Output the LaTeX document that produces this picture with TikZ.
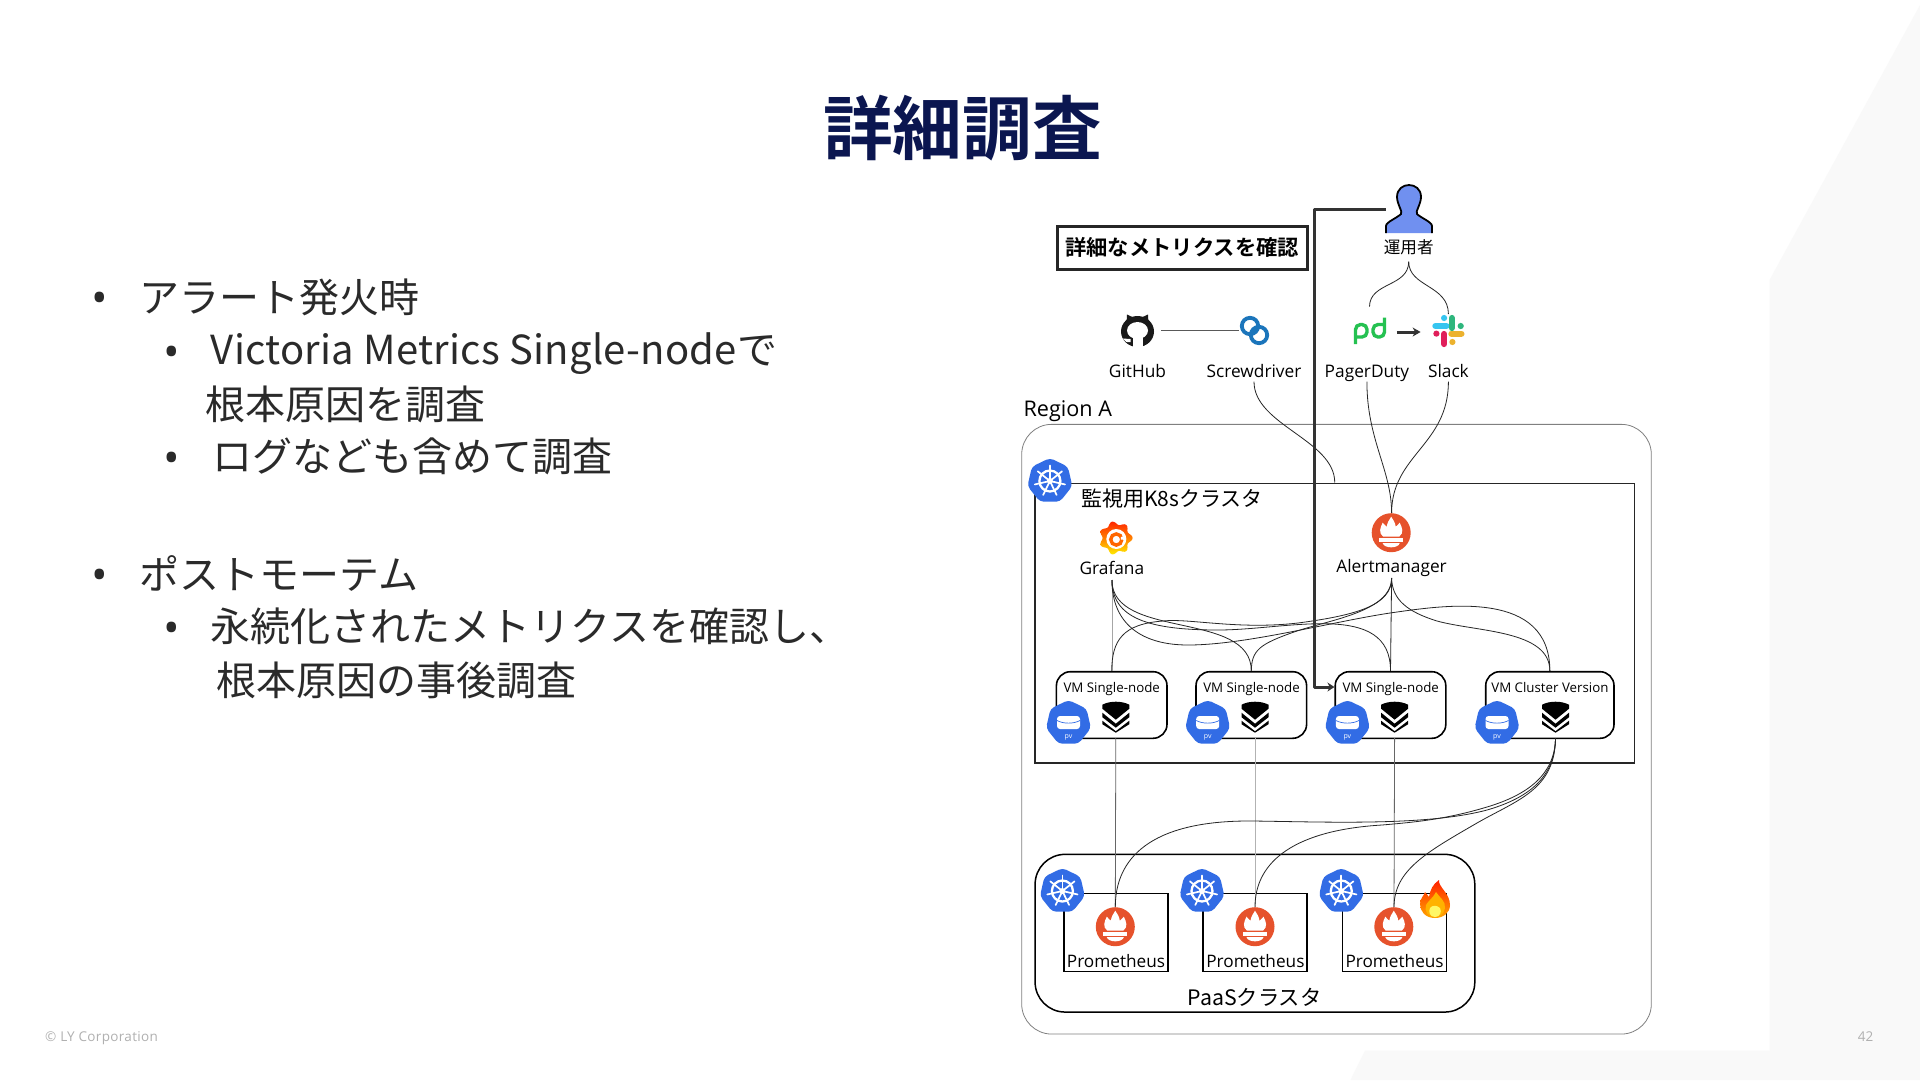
\documentclass[tikz,border=0pt]{standalone}
\usepackage{fontspec}
\usetikzlibrary{shapes.geometric,arrows.meta,calc}
\setmainfont{Open Sans}
\newfontfamily\jp{Noto Sans CJK JP}
\newfontfamily\jpsp[LetterSpace=0.65]{Noto Sans CJK JP}
\newfontfamily\jpb{Noto Sans CJK JP Bold}
\newfontfamily\ftf[LetterSpace=2.5]{Open Sans}
\newcommand\fsz[1]{\fontsize{#1pt}{#1pt}\selectfont}
\definecolor{navy}{HTML}{0B1650}
\definecolor{kblue}{HTML}{326CE5}
\definecolor{prom}{HTML}{E6522C}
\definecolor{txt}{HTML}{2A2A2A}
\definecolor{bgshape}{HTML}{F9F9F9}
\definecolor{foot}{HTML}{B0B0B0}
\definecolor{person}{HTML}{7090F0}
\definecolor{slblue}{HTML}{36C5F0}
\definecolor{slgreen}{HTML}{2EB67D}
\definecolor{slred}{HTML}{E01E5A}
\definecolor{slyellow}{HTML}{ECB22E}
\definecolor{pdgreen}{HTML}{25C151}
\definecolor{sdblue}{HTML}{1B75BB}
\tikzset{
  lab/.style={inner sep=0pt,text=black,font=\fsz{17.3}},
  baselab/.style={inner sep=0pt,text=black,anchor=base,font=\fsz{17.3}},
  slide/.style={inner sep=0pt,anchor=west,text=txt,font=\fsz{40}},
  bul/.style={inner sep=0pt,text=txt,font=\fsz{44}},
  conn/.style={line width=.8pt,draw=black!85},
  vmbox/.style={draw=black,line width=1.6pt,rounded corners=14pt,minimum height=66.6pt,inner sep=0pt},
  prbox/.style={draw=black,line width=1.5pt,minimum width=104pt,minimum height=78.4pt,inner sep=0pt},
  hept/.pic={
    \node[regular polygon,regular polygon sides=7,minimum size=46pt,inner sep=0pt,fill=kblue,rounded corners=4pt] {};
  },
  k8s/.pic={
    \pic {hept};
    \draw[white,line width=2.3pt] (0,0) circle (10.5pt);
    \fill[white] (0,0) circle (3pt);
    \foreach \a in {0,...,6} \draw[white,line width=1.7pt,line cap=round] (0,0) -- ({90+\a*360/7}:15.5pt);
  },
  pv/.pic={
    \pic {hept};
    \fill[white,rounded corners=3pt] (-11.5,-7) rectangle (11.5,6);
    \draw[kblue,line width=.7pt] (-11.5,-2.5) .. controls (-5,1) and (5,1) .. (11.5,-2.5);
    \node[inner sep=0pt,text=white,font=\fsz{7}] at (0,14.5) {pv};
  },
  vmetrics/.pic={
    \fill[black] (-13.5,-12) .. controls (-6,-16) and (6,-16) .. (13.5,-12) -- (13.5,-8) -- (0,3) -- (-13.5,-8) -- cycle;
    \fill[black] (-13.5,-4) -- (0,7) -- (13.5,-4) -- (13.5,0.5) -- (0,11) -- (-13.5,0.5) -- cycle;
    \fill[black] (-13.5,4) -- (0,14.5) -- (13.5,4) -- (13.5,7.5) -- (0,16) -- (-13.5,7.5) -- cycle;
  },
  prometheus/.pic={
    \fill[prom] (0,0) ellipse (19.5pt and 19.5pt);
    \fill[white] (-8,4) .. controls (-13,0) and (-11,-5) .. (-8.5,-10) .. controls (-7,-8) and (-5.5,-7) .. (-4.5,-6) .. controls (-4,-10) and (-2,-13) .. (0,-16) .. controls (2,-13) and (4,-10) .. (4.5,-6) .. controls (5.5,-7) and (7,-8) .. (8.5,-10) .. controls (11,-5) and (13,0) .. (8,4) -- cycle;
    \fill[white] (-12,5.5) rectangle (12,9);
    \fill[white] (-8.5,10.5) -- (8.5,10.5) .. controls (7,16) and (-7,16) .. (-8.5,10.5) -- cycle;
  },
  github/.pic={
    \fill[black!90] (-11,-7) -- (-10.5,-16) -- (-3,-12.5) -- (3,-12.5) -- (10.5,-16) -- (11,-7) -- cycle;
    \fill[black!90] (0,1) ellipse (16.5pt and 15.5pt);
    \fill[white] (0,0) ellipse (10.5pt and 8.5pt);
    \fill[white] (-5,5) rectangle (5,17);
    \fill[white] (-15,8) -- (-7,8.5) -- (-7,11.5) -- (-11,11.5) -- cycle;
  },
  screwdriver/.pic={
    \draw[sdblue,line width=3.8pt] (-4,-4) circle (8.2pt);
    \draw[sdblue,line width=3.8pt] (5,5) circle (8.2pt);
    \fill[sdblue] (-2,-2) rectangle (3,3);
  },
  pdlogo/.pic={
    \draw[pdgreen,line width=3.4pt,rounded corners=5pt] (-14,13) -- (-14,-6.5) -- (-2.5,-6.5) -- (-2.5,6) -- (-14,6);
    \draw[pdgreen,line width=3.4pt,rounded corners=5pt] (15,-13.5) -- (15,6) -- (3.5,6) -- (3.5,-6.5) -- (15,-6.5);
  },
  slacklogo/.pic={
    \draw[line width=6.2pt,line cap=round,slblue] (-13,-5) -- (-2,-5);
    \fill[slblue] (-4.3,-13) circle (3.1pt);
    \draw[line width=6.2pt,line cap=round,slgreen] (3.3,-13) -- (3.3,-3);
    \fill[slgreen] (12.3,-5) circle (3.1pt);
    \draw[line width=6.2pt,line cap=round,slred] (-4.3,3) -- (-4.3,13);
    \fill[slred] (-12,2.6) circle (3.1pt);
    \draw[line width=6.2pt,line cap=round,slyellow] (3,2.6) -- (13,2.6);
    \fill[slyellow] (4,11) circle (3.1pt);
  },
  grafana/.pic={
    \shade[top color=red!70!orange,bottom color=yellow!85!orange,middle color=orange] plot[samples=57,domain=0:360,smooth] (\x:{15+1.8*cos(7*\x)}) -- cycle;
    \fill[white] (0.5,1) circle (10pt);
    \draw[orange!80!red,line width=3.4pt] (0.5,1.5) circle (5.6pt);
    \fill[white] (5,-1) -- (10,-2) -- (10,2) -- (5,1.5) -- cycle;
  },
  flame/.pic={
    \shade[top color=red!75!orange,bottom color=orange!70!yellow] (0,19) .. controls (-10,19) and (-15,12) .. (-15,5) .. controls (-15,-1) and (-11,-3) .. (-10,-7) .. controls (-8,-5) and (-7,-3) .. (-6,-2) .. controls (-5,-9) and (-2,-15) .. (4,-19) .. controls (3,-12) and (15,-6) .. (15,6) .. controls (15,14) and (8,19) .. (0,19) -- cycle;
    \fill[orange!60!yellow] (0,18) .. controls (-7,18) and (-11,12) .. (-9,6) .. controls (-7,2) and (-2,-1) .. (1,-7) .. controls (4,-2) and (11,2) .. (10,9) .. controls (9,15) and (5,18) .. (0,18) -- cycle;
    \fill[yellow!60!white] (0,18) .. controls (-5,18) and (-7,13) .. (-5,9) .. controls (-3,6) and (2,6) .. (5,9) .. controls (7,13) and (5,18) .. (0,18) -- cycle;
  },
}
\begin{document}
\begin{tikzpicture}[x=1pt,y=-1pt]
\useasboundingbox (0,0) rectangle (1920,1080);
\fill[white] (0,0) rectangle (1920,1080);
\fill[bgshape] (1920,5) -- (1769.5,280) -- (1769.5,1050.5) -- (1365,1050.5) -- (1350.5,1080) -- (1920,1080) -- cycle;

% title
\node[inner sep=0pt,text=navy,font=\jpb\fsz{69.7}] (title) at (962.5,128) {詳細調査};

% slide text
\node[bul] (b1) at (100,303) {•};
\node[slide] (t1) at (139.6,297) {\jp アラート発火時};
\node[bul] (b2) at (172,357) {•};
\node[slide] (t2) at (210.6,354) {\jpsp Victoria Metrics Single-nodeで};
\node[slide] (t3) at (205.7,404) {\jp 根本原因を調査};
\node[bul] (b3) at (172,463) {•};
\node[slide] (t4) at (212,456) {\jp ログなども含めて調査};
\node[bul] (b4) at (100,580) {•};
\node[slide] (t5) at (139.6,573) {\jp ポストモーテム};
\node[bul] (b5) at (172,633) {•};
\node[slide] (t6) at (210.6,626) {\jp 永続化されたメトリクスを確認し、};
\node[slide] (t7) at (216.7,680) {\jp 根本原因の事後調査};

% footer
\node[inner sep=0pt,anchor=west,text=foot,font=\ftf\fsz{13.5}] (copy) at (45,1038.5) {© LY Corporation};
\node[inner sep=0pt,text=foot,font=\fsz{13.5}] (page) at (1865.5,1037) {42};

% containers
\node[draw=black!50,line width=.8pt,rounded corners=30pt,minimum width=629.6pt,minimum height=609.7pt,inner sep=0pt] (region) at (1336.5,729.2) {};
\node[lab,anchor=west,font=\fsz{21.6}] (regionL) at (1023.4,411.5) {Region A};
\node[draw=black!85,line width=1.6pt,minimum width=599.3pt,minimum height=279.4pt,inner sep=0pt] (mon) at (1334.75,623) {};
\node[draw=black,line width=1.5pt,rounded corners=30pt,minimum width=439.7pt,minimum height=157.7pt,inner sep=0pt] (paas) at (1254.95,933.2) {};
\node[lab,font=\jp\fsz{21.3}] (paasL) at (1254.6,997.7) {PaaSクラスタ};
\node[lab,anchor=west,font=\jp\fsz{21}] (monL) at (1081,498.5) {監視用K8sクラスタ};

% VM boxes
\node[vmbox,minimum width=110.6pt] (vm1) at (1111.7,705) {};
\node[vmbox,minimum width=110.6pt] (vm2) at (1251.3,705) {};
\node[vmbox,minimum width=110.6pt] (vm3) at (1390.5,705) {};
\node[vmbox,minimum width=128.3pt] (vm4) at (1549.85,705) {};
\node[baselab,font=\fsz{13.3}] at (1111.7,692) {VM Single-node};
\node[baselab,font=\fsz{13.3}] at (1251.5,692) {VM Single-node};
\node[baselab,font=\fsz{13.3}] at (1390.7,692) {VM Single-node};
\node[baselab,font=\fsz{13.3}] at (1549.9,692) {VM Cluster Version};

% prometheus boxes
\node[prbox] (pb1) at (1115.75,932.5) {};
\node[prbox] (pb2) at (1255,932.5) {};
\node[prbox] (pb3) at (1394.65,932.5) {};
\node[lab,font=\fsz{17.2}] (pl1) at (1116,960.7) {Prometheus};
\node[lab,font=\fsz{17.2}] (pl2) at (1255.4,960.7) {Prometheus};
\node[lab,font=\fsz{17.2}] (pl3) at (1394.6,960.7) {Prometheus};

% anchors for connectors
\coordinate (opOut) at (1408.7,261.7);
\coordinate (pdIn) at (1369.5,306.7);
\coordinate (slIn) at (1448.4,314);
\coordinate (ghR) at (1161.3,330.5);
\coordinate (sdL) at (1238.5,330.5);
\coordinate (sdOut) at (1254,381.7);
\coordinate (pdOut) at (1366.9,381.7);
\coordinate (slOut) at (1448.4,381.7);
\coordinate (amIn) at (1391.6,513);
\coordinate (gOut) at (1111.9,580);
\coordinate (aOut) at (1391.6,578);
\coordinate (vs1) at (1115.8,738);
\coordinate (vs2) at (1255,738);
\coordinate (vs3) at (1394.6,738);
\coordinate (vs4) at (1555.5,738);
\coordinate (p1t) at (1115.3,907);
\coordinate (p2t) at (1255,907);
\coordinate (p3t) at (1394,907);
\coordinate (opL) at (1385.5,209);
\coordinate (vm3in) at (vm3.west|-0,687);
\coordinate (pdR) at (1396.8,332);
\coordinate (slL) at (1420.6,332);
\coordinate (sdIn) at ($(mon.north west)!0.5!(mon.north east)$);

% connectors
\draw[conn] (opOut) .. controls (1408.7,287) and (1369.5,282) .. (pdIn);
\draw[conn] (opOut) .. controls (1408.7,287) and (1448.4,285) .. (slIn);
\draw[conn,line width=1pt,draw=black!65] (ghR) -- (sdL);
\draw[conn] (sdOut) .. controls (1254,425) and (sdIn|-0,440) .. (sdIn);
\draw[conn] (pdOut) .. controls (1366.9,440) and (1391.6,470) .. (amIn);
\draw[conn] (slOut) .. controls (1448.4,445) and (1391.6,455) .. (amIn);
\draw[conn,draw=black!35] (gOut) -- (vm1.north-|gOut);
\draw[conn] (gOut) .. controls (1111.9,640) and (1251.5,610) .. (vm2.north);
\draw[conn] (gOut) .. controls (1112,618) and (1148,630) .. (1218,630) .. controls (1288,630) and (1390.7,600) .. (vm3.north);
\draw[conn] (gOut) .. controls (1112,625) and (1143,645) .. (1188,645) .. controls (1248,645) and (1338,620) .. (1397,612) .. controls (1447,605) and (1549.9,590) .. (vm4.north);
\draw[conn] (aOut) .. controls (1391.6,605) and (1358,615) .. (1298,623) .. controls (1238,630) and (1188,618) .. (1163,621) .. controls (1123,624) and (1111.9,640) .. (vm1.north);
\draw[conn] (aOut) .. controls (1391.6,612) and (1328,620) .. (1294,632) .. controls (1260,644) and (1251.5,650) .. (vm2.north);
\draw[conn] (aOut) -- (vm3.north);
\draw[conn] (aOut) .. controls (1392,600) and (1408,612) .. (1437,621) .. controls (1477,632) and (1549.9,630) .. (vm4.north);
\draw[conn,draw=black!60] (vs1) -- (p1t);
\draw[conn,draw=black!30] (vs2) -- (p2t);
\draw[conn,draw=black!60] (vs3) -- (p3t);
\draw[conn] (vs4) .. controls (1555,775) and (1532,797) .. (1487,810) .. controls (1427,826) and (1328,822) .. (1253,821) .. controls (1148,820) and (1115.3,860) .. (p1t);
\draw[conn] (vs4) .. controls (1555,775) and (1527,795) .. (1487,807) .. controls (1447,819) and (1417,822) .. (1382,825) .. controls (1297,830) and (1255,860) .. (p2t);
\draw[conn] (vs4) .. controls (1555,790) and (1517,800) .. (1477,823) .. controls (1427,852) and (1394,870) .. (p3t);
\draw[line width=3pt,draw=black!80,-{Stealth[length=8pt,width=9pt]}] (pdR) -- (slL);
\draw[line width=3pt,draw=black!80,line join=round,-{Stealth[length=7pt,width=9pt]}] (opL) -- (1314.8,209) -- (1314.8,687) -- (vm3in);

% callout
\node[draw=black!85,line width=3pt,fill=white,minimum width=249.8pt,minimum height=43pt,inner sep=0pt,font=\jpb\fsz{21.3}] (call) at (1182.1,247.5) {詳細なメトリクスを確認};

% operator
\fill[person] (1386,233) -- (1386,226) .. controls (1386,222) and (1397,218) .. (1401,214) .. controls (1403,212) and (1397,204) .. (1397,197) .. controls (1397,189) and (1403,185) .. (1409,185) .. controls (1415,185) and (1421,189) .. (1421,197) .. controls (1421,204) and (1415,212) .. (1417,214) .. controls (1421,218) and (1432,222) .. (1432,226) -- (1432,233) -- cycle;
\draw[black,line width=1.8pt] (1386,233) -- (1386,226) .. controls (1386,222) and (1397,218) .. (1401,214) .. controls (1403,212) and (1397,204) .. (1397,197) .. controls (1397,189) and (1403,185) .. (1409,185) .. controls (1415,185) and (1421,189) .. (1421,197) .. controls (1421,204) and (1415,212) .. (1417,214) .. controls (1421,218) and (1432,222) .. (1432,226) -- (1432,233);
\node[lab,font=\jp\fsz{16.6}] (opLabel) at (1408.7,247.5) {運用者};

% tools
\pic at (1137.5,330.5) {github};
\pic at (1254,330) {screwdriver};
\pic at (1369.5,331) {pdlogo};
\pic at (1448.4,331) {slacklogo};
\node[baselab] at (1137.5,377.5) {GitHub};
\node[baselab] at (1254,377.5) {Screwdriver};
\node[baselab] at (1366.9,377.5) {PagerDuty};
\node[baselab] at (1448.4,377.5) {Slack};

% monitoring services
\pic at (1049.9,481) {k8s};
\pic at (1115.8,538) {grafana};
\pic at (1391.2,532.7) {prometheus};
\node[baselab] (gL) at (1111.9,574) {Grafana};
\node[baselab] (aL) at (1391.6,572.5) {Alertmanager};

% PV and stack icons
\pic at (1068.5,723) {pv};
\pic at (1207.7,723) {pv};
\pic at (1347.4,723) {pv};
\pic at (1497,723) {pv};
\pic at (1115.8,716.7) {vmetrics};
\pic at (1255,716.7) {vmetrics};
\pic at (1394.6,716.7) {vmetrics};
\pic at (1555.5,716.7) {vmetrics};

% PaaS icons
\pic at (1062.4,891) {k8s};
\pic at (1202,891) {k8s};
\pic at (1341.3,891) {k8s};
\pic at (1115.3,926.7) {prometheus};
\pic at (1255,926.7) {prometheus};
\pic at (1393.8,926.7) {prometheus};
\pic at (1435,899) {flame};
\end{tikzpicture}
\end{document}
